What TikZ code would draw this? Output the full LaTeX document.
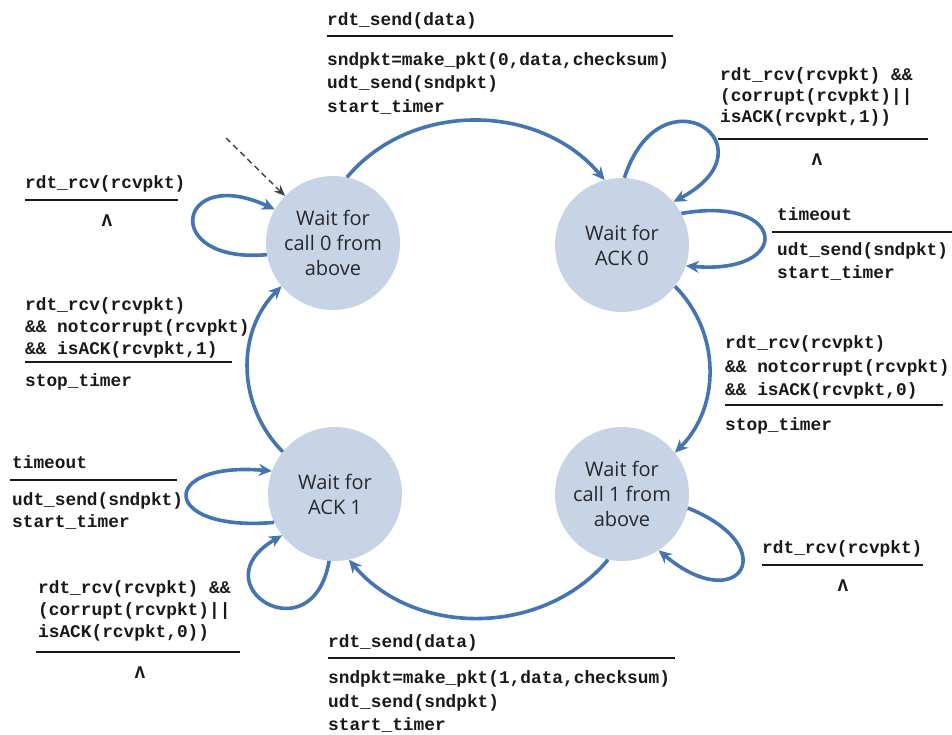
\documentclass[tikz,border=0pt]{standalone}
\usepackage{fontspec}
\usetikzlibrary{arrows.meta}
\newfontfamily\monof{Liberation Mono}
\newfontfamily\statef{Open Sans}
\definecolor{statefill}{RGB}{199,212,229}
\definecolor{statetext}{RGB}{40,40,45}
\definecolor{arrblue}{RGB}{68,116,178}
\definecolor{monotext}{RGB}{25,25,25}
\newcommand\tline[4]{\node[mono] (#1) at (#2,-#3) {#4};}
\newcommand\tlam[3]{\node[mono,anchor=base] (#1) at (#2,-#3) {Λ};}
\begin{document}
\begin{tikzpicture}[x=1pt,y=1pt,
  state/.style={circle, fill=statefill, minimum size=134pt, inner sep=0pt, align=center,
    font=\statef\fontsize{20}{25}\selectfont, text=statetext},
  arr/.style={draw=arrblue, line width=3.6pt, -{Stealth[length=13pt,width=12pt]}},
  mono/.style={font=\monof\bfseries\fontsize{17.8}{22}\selectfont, inner sep=0pt, anchor=base west, text=monotext},
  rulel/.style={line width=1.6pt, draw=monotext},
  initarr/.style={draw=black!75, line width=1.4pt, dash pattern=on 6pt off 4pt, -{Stealth[length=11pt,width=9pt]}}
]
\useasboundingbox (0,0) rectangle (952,-734);
\fill[white] (0,0) rectangle (952,-734);

% states
\node[state] (S0) at (333,-243) {Wait for\\call 0 from\\above};
\node[state] (S1) at (622,-245) {Wait for\\ACK 0};
\node[state] (S2) at (622,-494) {Wait for\\call 1 from\\above};
\node[state] (S3) at (335,-494) {Wait for\\ACK 1};

% initial arrow
\coordinate (init) at (226,-138);
\draw[initarr] (init) -- (S0);

% main transitions
\draw[arr] (S0.78) to[out=50,in=130] (S1.105);
\draw[arr] (S1.-38) to[out=-45,in=45] (S2.38);
\draw[arr] (S2.-102) to[out=-130,in=-50] (S3.-78);
\draw[arr] (S3.141) to[out=135,in=-135] (S0.-140);

% self loops
\draw[arr] (S0.190) to[out=185,in=155,distance=108] (S0.150);
\draw[arr] (S1.88) to[out=72,in=28,distance=118] (S1.40);
\draw[arr] (S1.28) to[out=10,in=-5,distance=108] (S1.-18);
\draw[arr] (S2.-12) to[out=-22,in=-40,distance=105] (S2.-57);
\draw[arr] (S3.-155) to[out=185,in=175,distance=115] (S3.160);
\draw[arr] (S3.-95) to[out=-100,in=-150,distance=98] (S3.-142);

% top label (S0 -> S1)
\tline{a1}{327}{25}{rdt\_send(data)}
\coordinate (a1l) at (327,-36); \coordinate (a1r) at (673,-36);
\draw[rulel] (a1l) -- (a1r);
\tline{a2}{327}{65}{sndpkt=make\_pkt(0,data,checksum)}
\tline{a3}{327}{88}{udt\_send(sndpkt)}
\tline{a4}{327}{112}{start\_timer}

% S0 self loop label
\tline{b1}{25}{188}{rdt\_rcv(rcvpkt)}
\coordinate (b1l) at (25,-200); \coordinate (b1r) at (178,-200);
\draw[rulel] (b1l) -- (b1r);
\tlam{b2}{107}{226}

% S3 -> S0 label
\tline{c1}{25}{310}{rdt\_rcv(rcvpkt)}
\tline{c2}{25}{332}{\&\& notcorrupt(rcvpkt)}
\tline{c3}{25}{354}{\&\& isACK(rcvpkt,1)}
\coordinate (c3l) at (25,-362); \coordinate (c3r) at (232,-362);
\draw[rulel] (c3l) -- (c3r);
\tline{c4}{25}{386}{stop\_timer}

% S1 top loop label
\tline{d1}{720}{80}{rdt\_rcv(rcvpkt) \&\&}
\tline{d2}{720}{101}{(corrupt(rcvpkt)||}
\tline{d3}{720}{122}{isACK(rcvpkt,1))}
\coordinate (d3l) at (718,-139); \coordinate (d3r) at (928,-139);
\draw[rulel] (d3l) -- (d3r);
\tlam{d4}{817}{165}

% S1 timeout label
\tline{e1}{777}{220}{timeout}
\coordinate (e1l) at (772,-232); \coordinate (e1r) at (952,-232);
\draw[rulel] (e1l) -- (e1r);
\tline{e2}{777}{255}{udt\_send(sndpkt)}
\tline{e3}{777}{278}{start\_timer}

% S1 -> S2 label
\tline{f1}{725}{348}{rdt\_rcv(rcvpkt)}
\tline{f2}{725}{372}{\&\& notcorrupt(rcvpkt)}
\tline{f3}{725}{395}{\&\& isACK(rcvpkt,0)}
\coordinate (f3l) at (725,-405); \coordinate (f3r) at (943,-405);
\draw[rulel] (f3l) -- (f3r);
\tline{f4}{725}{430}{stop\_timer}

% S2 self loop label
\tline{g1}{762}{553}{rdt\_rcv(rcvpkt)}
\coordinate (g1l) at (762,-565); \coordinate (g1r) at (923,-565);
\draw[rulel] (g1l) -- (g1r);
\tlam{g2}{843}{591}

% S3 timeout label
\tline{h1}{12}{468}{timeout}
\coordinate (h1l) at (10,-480); \coordinate (h1r) at (177,-480);
\draw[rulel] (h1l) -- (h1r);
\tline{h2}{12}{505}{udt\_send(sndpkt)}
\tline{h3}{12}{527}{start\_timer}

% S3 bottom loop label
\tline{i1}{38}{593}{rdt\_rcv(rcvpkt) \&\&}
\tline{i2}{38}{615}{(corrupt(rcvpkt)||}
\tline{i3}{38}{637}{isACK(rcvpkt,0))}
\coordinate (i3l) at (36,-652); \coordinate (i3r) at (240,-652);
\draw[rulel] (i3l) -- (i3r);
\tlam{i4}{140}{678}

% bottom label (S2 -> S3)
\tline{j1}{328}{647}{rdt\_send(data)}
\coordinate (j1l) at (328,-658); \coordinate (j1r) at (675,-658);
\draw[rulel] (j1l) -- (j1r);
\tline{j2}{328}{683}{sndpkt=make\_pkt(1,data,checksum)}
\tline{j3}{328}{707}{udt\_send(sndpkt)}
\tline{j4}{328}{730}{start\_timer}
\end{tikzpicture}
\end{document}
